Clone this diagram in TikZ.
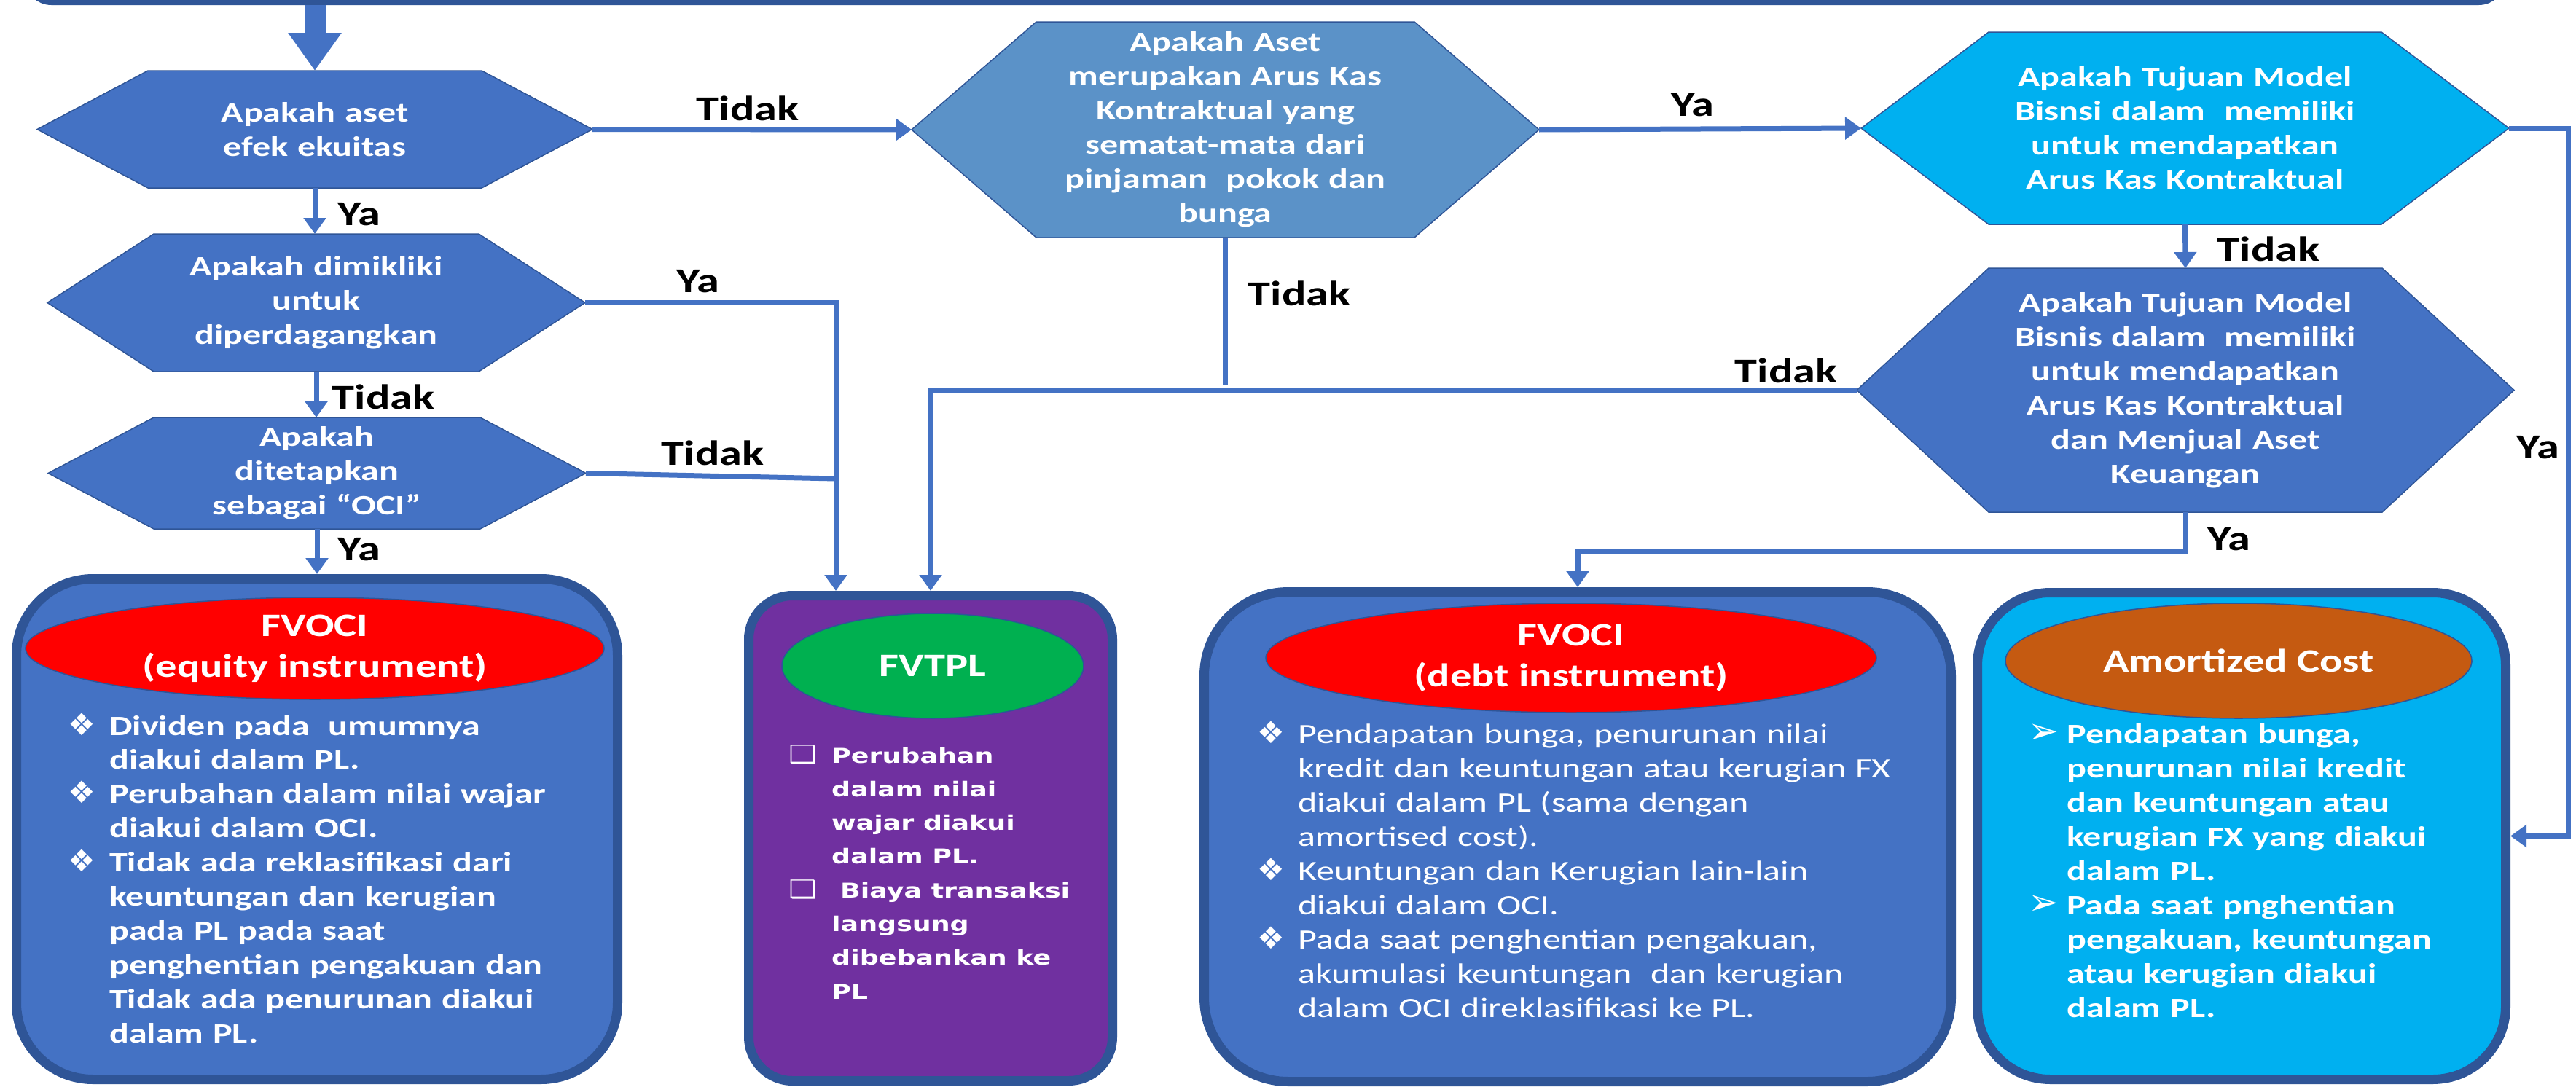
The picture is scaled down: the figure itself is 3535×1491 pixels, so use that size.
\documentclass[tikz,border=0pt]{standalone}
\usepackage{graphicx}
\usepackage{fontspec}
\setmainfont{Carlito}[FakeStretch=1.3]
\newfontfamily\fvfont{DejaVu Sans Bold}
\newfontfamily\symfont{DejaVu Sans}
\usetikzlibrary{arrows.meta,backgrounds,shapes.geometric}

\definecolor{qblue}{HTML}{4472C4}
\definecolor{qsteel}{HTML}{5B92C8}
\definecolor{qcyan}{HTML}{00B0F0}
\definecolor{qedge}{HTML}{2F5597}
\definecolor{qpurple}{HTML}{7030A0}
\definecolor{qgreen}{HTML}{00B050}
\definecolor{qbrown}{HTML}{C55A11}

% bullet placed to the left of the line start: [gap]{size}{glyph}
\newcommand\bul[3][19pt]{\leavevmode\llap{{\symfont\fontsize{#2}{#2}\selectfont #3}\hspace{#1}}}

% hexagon drawn around the frame of a decision node
\newcommand\hexshape[3]{%
  \path[fill=#3, draw=qedge, line width=1.5pt]
    (#1.west) -- ([xshift=#2]#1.north west) -- ([xshift=-#2]#1.north east)
    -- (#1.east) -- ([xshift=-#2]#1.south east) -- ([xshift=#2]#1.south west) -- cycle;}

\tikzset{
  conn/.style={draw=qblue, line width=7pt},
  arr/.style={conn, -{Triangle[width=30pt,length=22pt]}},
  lbl/.style={inner sep=0pt, text=black, font=\bfseries\fontsize{48}{56}\selectfont},
  hexnode/.style={inner sep=0pt, outer sep=0pt, text=white, align=center,
    text width=600pt, font=\bfseries\fontsize{38.5}{47}\selectfont},
  outcome/.style={draw=qedge, line width=13pt, inner sep=0pt},
  badge/.style={ellipse, inner sep=0pt, draw=qedge, line width=1.5pt, text=white,
    align=center, font=\bfseries\fontsize{45}{56}\selectfont},
  body/.style={anchor=base west, inner sep=0pt, text=white, align=left},
  banner/.style={draw=qedge, fill=qblue, line width=13pt, rounded corners=30pt,
    minimum width=3391pt, minimum height=100pt},
}

\begin{document}
\begin{tikzpicture}[x=1pt,y=-1pt]
\useasboundingbox (0,0) rectangle (3535,1491);

% banner at the top edge
\node[banner] (topbar) at (1736,-49.5) {};

% decision nodes
\node[hexnode, minimum width=762pt, minimum height=161pt] (q1) at (432,177.5)
  {Apakah aset\\efek ekuitas};
\node[hexnode, minimum width=738pt, minimum height=189pt] (q2) at (434,415.5)
  {Apakah dimikliki\\untuk\\diperdagangkan};
\node[hexnode, minimum width=738pt, minimum height=153pt] (q3) at (435,649.5)
  {Apakah\\ditetapkan\\sebagai “OCI”};
\node[hexnode, minimum width=861pt, minimum height=296pt] (q4) at (1681.5,178)
  {Apakah Aset\\merupakan Arus Kas\\Kontraktual yang\\sematat-mata dari\\pinjaman \ pokok dan\\bunga};
\node[hexnode, minimum width=889pt, minimum height=264pt] (q5) at (2998.5,176)
  {Apakah Tujuan Model\\Bisnsi dalam \ memiliki\\untuk mendapatkan\\Arus Kas Kontraktual};
\node[hexnode, minimum width=902pt, minimum height=335pt] (q6) at (2999,535.5)
  {Apakah Tujuan Model\\Bisnis dalam \ memiliki\\untuk mendapatkan\\Arus Kas Kontraktual\\dan Menjual Aset\\Keuangan};

\begin{scope}[on background layer]
  \fill[white] (0,0) rectangle (3535,1491);
  \hexshape{q1}{152pt}{qblue}
  \hexshape{q2}{146pt}{qblue}
  \hexshape{q3}{145pt}{qblue}
  \hexshape{q4}{171pt}{qsteel}
  \hexshape{q5}{175pt}{qcyan}
  \hexshape{q6}{181pt}{qblue}
\end{scope}

% outcome boxes
\node[outcome, fill=qblue, rounded corners=105pt, minimum width=825pt, minimum height=687pt]
  (eq) at (435,1138) {};
\node[outcome, fill=qpurple, rounded corners=60pt, minimum width=499pt, minimum height=666pt]
  (fv) at (1277,1150.5) {};
\node[outcome, fill=qblue, rounded corners=115pt, minimum width=1025pt, minimum height=672pt]
  (debt) at (2165,1148.5) {};
\node[outcome, fill=qcyan, rounded corners=100pt, minimum width=725pt, minimum height=668pt]
  (am) at (3076,1147.5) {};

% headings
\node[badge, fill=red, minimum width=794pt, minimum height=140pt] (t1) at (432,890)
  {FVOCI\\(equity instrument)};
\node[badge, fill=qgreen, minimum width=414pt, minimum height=144pt] (t2) at (1280,914)
  {FVTPL};
\node[badge, fill=red, minimum width=838pt, minimum height=150pt] (t3) at (2156,903)
  {FVOCI\\(debt instrument)};
\node[badge, fill=qbrown, minimum width=640pt, minimum height=158pt] (t4) at (3072,907)
  {Amortized Cost};

% box contents
\node[body, text width=800pt, font=\bfseries\fontsize{38.5}{46.9}\selectfont] (b1) at (150,1009)
  {\bul{42}{❖}Dividen pada \ umumnya\\
   diakui dalam PL.\\
   \bul{42}{❖}Perubahan dalam nilai wajar\\
   diakui dalam OCI.\\
   \bul{42}{❖}Tidak ada reklasifikasi dari\\
   keuntungan dan kerugian\\
   pada PL pada saat\\
   penghentian pengakuan dan\\
   Tidak ada penurunan diakui\\
   dalam PL.};
\node[anchor=base west, inner sep=0pt, text=white] (b2) at (1141,1047)
  {\fvfont\fontsize{28}{46.3}\selectfont
   \scalebox{1.3}[1]{\begin{tabular}[t]{@{}l@{}}
   \bul[14.6pt]{34}{❑}Perubahan\\
   dalam nilai\\
   wajar diakui\\
   dalam PL.\\
   \bul[14.6pt]{34}{❑}\hspace{9.2pt}Biaya transaksi\\
   langsung\\
   dibebankan ke\\
   PL
   \end{tabular}}};
\node[body, text width=1000pt, font=\fontsize{38.5}{47}\selectfont] (b3) at (1781,1020)
  {\bul[18pt]{42}{❖}Pendapatan bunga, penurunan nilai\\
   kredit dan keuntungan atau kerugian FX\\
   diakui dalam PL (sama dengan\\
   amortised cost).\\
   \bul[18pt]{42}{❖}Keuntungan dan Kerugian lain-lain\\
   diakui dalam OCI.\\
   \bul[18pt]{42}{❖}Pada saat penghentian pengakuan,\\
   akumulasi keuntungan \ dan kerugian\\
   dalam OCI direklasifikasi ke PL.};
\node[body, text width=700pt, font=\bfseries\fontsize{38.5}{47}\selectfont] (b4) at (2836,1020)
  {\bul[11pt]{50}{➢}Pendapatan bunga,\\
   penurunan nilai kredit\\
   dan keuntungan atau\\
   kerugian FX yang diakui\\
   dalam PL.\\
   \bul[11pt]{50}{➢}Pada saat pnghentian\\
   pengakuan, keuntungan\\
   atau kerugian diakui\\
   dalam PL.};

% connector corner points
\coordinate (jx) at (1147,0);
\coordinate (j3) at (1147,657);
\coordinate (e4) at (1685,528);
\coordinate (rx) at (3524,0);
\coordinate (yb) at (0,757);

% connectors
\draw[draw=qblue, line width=29pt, -{Triangle[width=70pt,length=52pt]}]
  (topbar.south -| q1.north) -- (q1.north);
\draw[arr] (q1.south) -- (q1.south |- q2.north);
\draw[arr] (q2.south) -- (q2.south |- q3.north);
\draw[arr] (q3.south) -- (q3.south |- eq.north);
\draw[arr] (q1.east) -- (q4.west);
\draw[arr] (q2.east) -| (jx |- fv.north);
\draw[conn] (q3.east) -- (j3);
\draw[conn] (q4.south) -- (q4.south |- e4);
\draw[arr] (q6.west) -| (fv.north);
\draw[arr] (q4.east) -- (q5.west);
\draw[arr] (q5.south) -- (q6.north);
\draw[arr] (q5.east) -| (rx |- am.east) -- (am.east);
\draw[arr] (q6.south) -- (q6.south |- yb) -| (debt.north);

% connector labels
\node[lbl] (l1) at (1026,149) {Tidak};
\node[lbl] (l2) at (493,294) {Ya};
\node[lbl] (l3) at (958,386) {Ya};
\node[lbl] (l4) at (526,545) {Tidak};
\node[lbl] (l5) at (978,622) {Tidak};
\node[lbl] (l6) at (493,754) {Ya};
\node[lbl] (l7) at (2323,144) {Ya};
\node[lbl] (l8) at (1783,403) {Tidak};
\node[lbl] (l9) at (2451,509) {Tidak};
\node[lbl] (l10) at (3113,342) {Tidak};
\node[lbl] (l11) at (3483,614) {Ya};
\node[lbl] (l12) at (3059,740) {Ya};
\end{tikzpicture}
\end{document}
